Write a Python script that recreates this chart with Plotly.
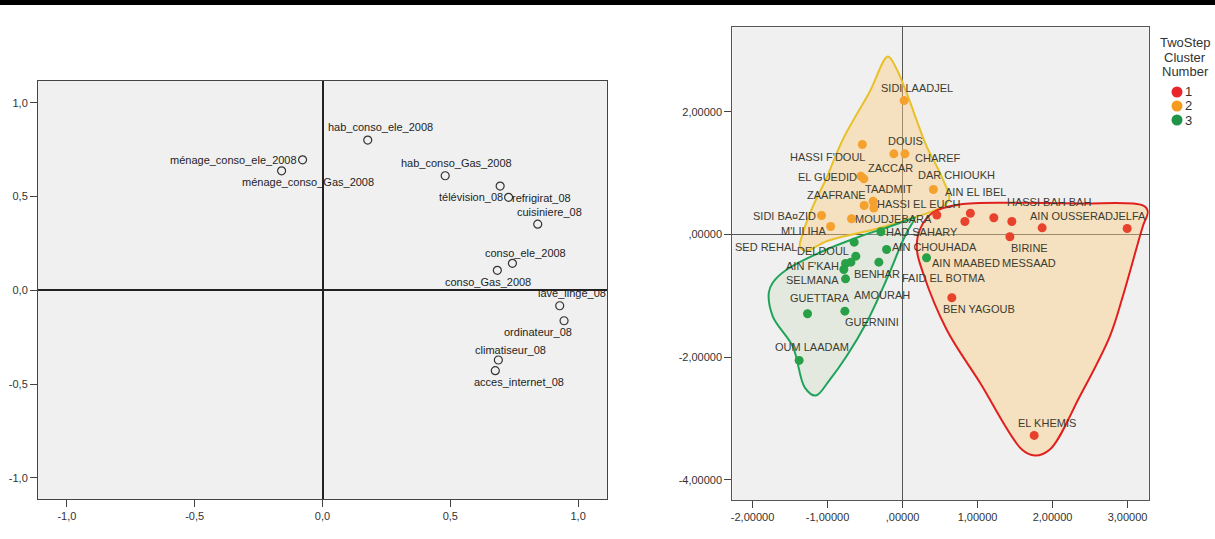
import plotly.graph_objects as go

W, H = 1215, 539
FONT = "Arial, 'Liberation Sans', sans-serif"

# ---------------- Left panel: component loadings ----------------
var_names = ["ménage_conso_ele_2008", "ménage_conso_Gas_2008", "hab_conso_ele_2008",
             "hab_conso_Gas_2008", "télévision_08", "refrigirat_08", "cuisiniere_08",
             "conso_ele_2008", "conso_Gas_2008", "lave_linge_08", "ordinateur_08",
             "climatiseur_08", "acces_internet_08"]
comp1 = [-0.078, -0.160, 0.177, 0.480, 0.728, 0.695, 0.842, 0.743, 0.684, 0.928, 0.945, 0.688, 0.676]
comp2 = [0.696, 0.637, 0.801, 0.611, 0.496, 0.556, 0.353, 0.144, 0.107, -0.082, -0.162, -0.371, -0.428]

load_ticks = [-1.0, -0.5, 0.0, 0.5, 1.0]
load_ticktext = ["-1,0", "-0,5", "0,0", "0,5", "1,0"]

# label placement (pixel shift of label centre from its point)
var_label_shift = [(-69, 0), (26.5, -11.6), (12.4, 12.7), (11.7, 12.4), (-37.5, 0),
                   (41.3, -11.7), (11.8, 11.7), (12.9, 10.6), (-9, -11.4), (12.5, 12.4),
                   (-26.2, -11.6), (12.5, 10), (23.8, -11.6)]

# ---------------- Right panel: communes by TwoStep cluster ----------------
communes = ["SIDI LAADJEL", "HASSI F'DOUL", "DOUIS", "CHAREF", "EL GUEDID", "ZACCAR",
            "DAR CHIOUKH", "TAADMIT", "ZAAFRANE", "HASSI EL EUCH", "SIDI BA¤ZID", "MOUDJEBARA",
            "M'LILIHA",
            "AIN EL IBEL", "EL IDRISSIA", "AIN MAABED", "MESSAAD", "HASSI BAH BAH", "AIN OUSSERA",
            "DJELFA", "BIRINE", "BEN YAGOUB", "EL KHEMIS",
            "HAD SAHARY", "SED REHAL", "AIN CHOUHADA", "DELDOUL", "AIN F'KAH", "BOUIRA LAHDAB",
            "SELMANA", "AMOURAH", "BENHAR", "FAID EL BOTMA", "GUERNINI", "GUETTARA", "OUM LAADAM"]
score1 = [0.021, -0.536, -0.116, 0.031, -0.556, -0.516, 0.411, -0.392, -0.512, -0.383, -1.080, -0.680,
          -0.959,
          0.457, 0.904, 0.831, 1.217, 1.457, 1.861, 2.995, 1.431, 0.657, 1.755,
          -0.289, -0.645, -0.213, -0.623, -0.689, -0.760, -0.783, -0.760, -0.316, 0.320, -0.769,
          -1.267, -1.379]
score2 = [2.182, 1.466, 1.314, 1.314, 0.950, 0.907, 0.733, 0.542, 0.472, 0.432, 0.309, 0.256,
          0.130,
          0.318, 0.347, 0.212, 0.272, 0.212, 0.109, 0.098, -0.037, -1.031, -3.274,
          0.044, -0.125, -0.244, -0.353, -0.451, -0.472, -0.570, -0.722, -0.451, -0.379, -1.249,
          -1.292, -2.052]
cluster = [2] * 13 + [1] * 10 + [3] * 13
# communes whose names are not printed on the chart
unlabeled = {"EL IDRISSIA", "BOUIRA LAHDAB"}

commune_label_shift = [(12.7, 12.7), (-35, -12.7), (12, 12.6), (33, -4), (-33, -1), (27, 11),
                       (23.5, 15), (16.2, 12.4), (-27.3, 11), (44.5, 4.2), (-37.2, 0), (41.8, 0),
                       (-26.8, -4),
                       (39, 22.8), (0, 0), (1, -41.3), (35, -45), (37, 19.3), (25.7, 11.6),
                       (-1.3, 12.3), (20, -11), (27.5, -11), (12.7, 12.7),
                       (41.5, 0), (-88.3, -4.6), (47.8, 2.3), (-33, 5), (-38, -4), (0, 0),
                       (-31, -10.7), (36.3, -15.7), (-2, -12.3), (16.8, -20.7), (27, -11),
                       (12.3, 15.3), (12.7, 13.3)]

# smoothed boundary of each cluster (score units)
hull1_x = [0.404, 0.764, 1.471, 2.364, 3.204, 3.271, 3.204, 2.937, 2.764, 2.364, 1.964, 1.764,
           1.591, 1.031, 0.587, 0.271, 0.191, 0.231, 0.404]
hull1_y = [0.359, 0.489, 0.517, 0.505, 0.473, 0.375, 0.135, -1.006, -1.658, -2.636, -3.504, -3.602,
           -3.504, -2.412, -1.548, -0.619, -0.245, 0.081, 0.359]
hull2_x = [-0.196, -0.436, -0.796, -1.023, -1.196, -1.343, -1.369, -1.289, -1.013, -0.347, 0.071,
           0.404, 0.564, 0.624, 0.497, 0.320, 0.053, -0.089, -0.196]
hull2_y = [2.901, 2.331, 1.548, 0.896, 0.456, -0.033, -0.196, -0.269, -0.109, 0.093, 0.245,
           0.380, 0.481, 0.587, 1.006, 1.439, 2.310, 2.722, 2.901]
hull3_x = [0.164, 0.031, -0.213, -0.480, -0.747, -0.969, -1.156, -1.303, -1.463, -1.729, -1.783,
           -1.729, -1.543, -1.103, -0.569, -0.209, 0.124, 0.164]
hull3_y = [0.277, -0.028, -0.733, -1.434, -1.984, -2.363, -2.624, -2.494, -1.826, -1.337, -0.945,
           -0.782, -0.570, -0.293, -0.033, 0.114, 0.261, 0.277]

score_xticks = [-2, -1, 0, 1, 2, 3]
score_xticktext = ["-2,00000", "-1,00000", ",00000", "1,00000", "2,00000", "3,00000"]
score_yticks = [-4, -2, 0, 2]
score_yticktext = ["-4,00000", "-2,00000", ",00000", "2,00000"]

cluster_ids = [1, 2, 3]
cluster_color = {1: "#E8412C", 2: "#F5A12E", 3: "#27A047"}
legend_color = {1: "#E8262B", 2: "#F79A20", 3: "#1E9446"}
hull_line = {1: "#E0201E", 2: "#E8C12A", 3: "#1FA35A"}
hull_fill = {1: "rgba(250,205,130,0.45)", 2: "rgba(250,205,130,0.45)", 3: "rgba(205,222,195,0.35)"}

fig = go.Figure()

# ---- left panel traces ----
fig.add_trace(go.Scatter(
    x=comp1, y=comp2, mode="markers", xaxis="x", yaxis="y",
    marker=dict(symbol="circle-open", size=8, color="#333333", line=dict(width=1.2)),
    hoverinfo="text", text=var_names, showlegend=False))

# ---- right panel: cluster hulls ----
hulls = {1: (hull1_x, hull1_y), 2: (hull2_x, hull2_y), 3: (hull3_x, hull3_y)}
for cid in [2, 1, 3]:
    hx, hy = hulls[cid]
    fig.add_trace(go.Scatter(
        x=hx, y=hy, mode="lines", xaxis="x2", yaxis="y2", fill="toself",
        fillcolor=hull_fill[cid], line=dict(color=hull_line[cid], width=2, shape="spline", smoothing=1.0),
        hoverinfo="skip", showlegend=False))

# ---- right panel: communes ----
for cid in cluster_ids:
    idx = [i for i, c in enumerate(cluster) if c == cid]
    fig.add_trace(go.Scatter(
        x=[score1[i] for i in idx], y=[score2[i] for i in idx], mode="markers",
        xaxis="x2", yaxis="y2",
        marker=dict(size=9, color=cluster_color[cid]),
        text=[communes[i] for i in idx], hoverinfo="text", name=str(cid), showlegend=False))

annotations = []
for name, x, y, (dx, dy) in zip(var_names, comp1, comp2, var_label_shift):
    annotations.append(dict(x=x, y=y, xref="x", yref="y", text=name, showarrow=False,
                            xshift=dx, yshift=dy, xanchor="center", yanchor="middle",
                            font=dict(family=FONT, size=11, color="#1E1E1E")))

for name, x, y, (dx, dy) in zip(communes, score1, score2, commune_label_shift):
    if name in unlabeled:
        continue
    annotations.append(dict(x=x, y=y, xref="x2", yref="y2", text=name, showarrow=False,
                            xshift=dx, yshift=dy, xanchor="center", yanchor="middle",
                            font=dict(family=FONT, size=11, color="#3C3C30")))

# legend block
for i, line in enumerate(["TwoStep", "Cluster", "Number"]):
    annotations.append(dict(x=1185 / W, y=1 - (43 + 14.3 * i) / H, xref="paper", yref="paper",
                            text=line, showarrow=False, xanchor="center", yanchor="middle",
                            font=dict(family=FONT, size=13, color="#333333")))
shapes = []
for k, cid in enumerate(cluster_ids):
    cy = 92 + 14 * k
    shapes.append(dict(type="circle", xref="paper", yref="paper",
                       x0=(1177 - 5.5) / W, x1=(1177 + 5.5) / W,
                       y0=1 - (cy + 5.5) / H, y1=1 - (cy - 5.5) / H,
                       fillcolor=legend_color[cid], line=dict(width=0)))
    annotations.append(dict(x=1183 / W, y=1 - cy / H, xref="paper", yref="paper",
                            text=str(cid), showarrow=False, xanchor="left", yanchor="middle",
                            font=dict(family=FONT, size=13, color="#333333")))

# black rule across the top of the figure
shapes.append(dict(type="rect", xref="paper", yref="paper", x0=0, x1=1,
                   y0=1 - 5 / H, y1=1, fillcolor="#000000", line=dict(width=0), layer="above"))

axis_common = dict(showgrid=False, zeroline=True, showline=True, mirror=True,
                   linewidth=1, ticks="outside", ticklen=7, tickwidth=1, tickcolor="#444444",
                   tickfont=dict(family=FONT, size=11, color="#333333"), fixedrange=True)

fig.update_layout(
    width=W, height=H, margin=dict(l=0, r=0, t=0, b=0),
    paper_bgcolor="#FFFFFF", plot_bgcolor="#F0F0F0",
    font=dict(family=FONT),
    xaxis=dict(axis_common, domain=[38 / W, 607 / W], anchor="y", range=[-1.113, 1.113],
               tickmode="array", tickvals=load_ticks, ticktext=load_ticktext,
               linecolor="#444444", zerolinecolor="#222222", zerolinewidth=1.5),
    yaxis=dict(axis_common, domain=[1 - 499 / H, 1 - 81 / H], anchor="x", range=[-1.112, 1.116],
               tickmode="array", tickvals=load_ticks, ticktext=load_ticktext,
               linecolor="#444444", zerolinecolor="#222222", zerolinewidth=1.5),
    xaxis2=dict(axis_common, domain=[732.3 / W, 1148.7 / W], anchor="y2", range=[-2.27, 3.282],
                tickmode="array", tickvals=score_xticks, ticktext=score_xticktext,
                linecolor="#555555", zerolinecolor="#555555", zerolinewidth=1),
    yaxis2=dict(axis_common, domain=[1 - 500 / H, 1 - 27.3 / H], anchor="x2", range=[-4.326, 3.376],
                tickmode="array", tickvals=score_yticks, ticktext=score_yticktext,
                linecolor="#555555", zerolinecolor="#555555", zerolinewidth=1),
    annotations=annotations, shapes=shapes,
)

fig.write_html("out.html")
